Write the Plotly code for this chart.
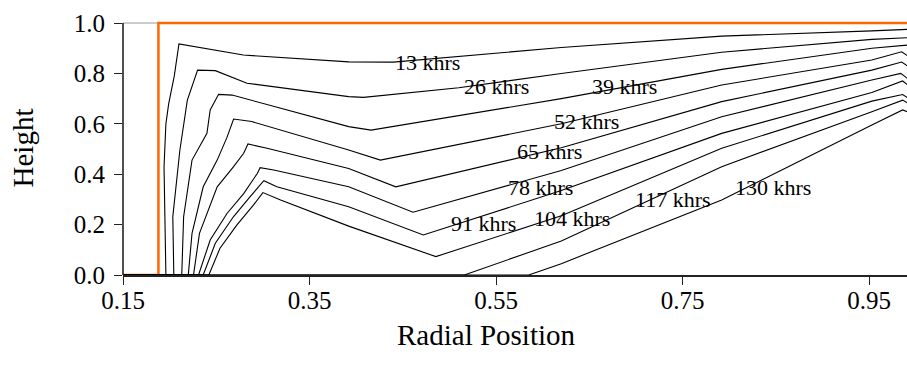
import plotly.graph_objects as go

# Initial profile (step at the inner radius)
r_init = [0.15, 0.188, 0.188, 0.993]
h_init = [0.0, 0.0, 1.0, 1.0]

# Height profiles after successive exposure times
r_13 = [0.15, 0.196, 0.194, 0.196, 0.199, 0.205, 0.210, 0.279, 0.392, 0.44, 0.62, 0.792, 0.953, 0.993]
h_13 = [0.0, 0.0, 0.43, 0.60, 0.68, 0.79, 0.917, 0.873, 0.846, 0.845, 0.903, 0.948, 0.969, 0.975]

r_26 = [0.15, 0.2045, 0.2034, 0.207, 0.211, 0.219, 0.230, 0.249, 0.283, 0.392, 0.408, 0.51, 0.62, 0.792, 0.953, 0.993]
h_26 = [0.0, 0.0, 0.231, 0.350, 0.496, 0.694, 0.813, 0.811, 0.761, 0.708, 0.705, 0.743, 0.800, 0.884, 0.935, 0.942]

r_39 = [0.15, 0.213, 0.215, 0.224, 0.240, 0.2435, 0.2525, 0.267, 0.392, 0.416, 0.62, 0.792, 0.953, 0.993]
h_39 = [0.0, 0.0, 0.231, 0.456, 0.562, 0.655, 0.717, 0.714, 0.589, 0.575, 0.700, 0.816, 0.900, 0.913]

r_52 = [0.15, 0.220, 0.224, 0.236, 0.251, 0.2615, 0.2686, 0.288, 0.392, 0.426, 0.62, 0.792, 0.953, 0.985, 0.993]
h_52 = [0.0, 0.0, 0.165, 0.350, 0.456, 0.546, 0.619, 0.609, 0.496, 0.456, 0.600, 0.754, 0.853, 0.886, 0.866]

r_65 = [0.15, 0.2256, 0.232, 0.251, 0.2686, 0.2794, 0.284, 0.3045, 0.392, 0.4425, 0.62, 0.792, 0.953, 0.985, 0.993]
h_65 = [0.0, 0.0, 0.165, 0.350, 0.430, 0.483, 0.520, 0.503, 0.423, 0.350, 0.505, 0.688, 0.813, 0.845, 0.825]

r_78 = [0.15, 0.231, 0.2435, 0.2615, 0.2794, 0.294, 0.297, 0.3116, 0.392, 0.461, 0.62, 0.792, 0.953, 0.984, 0.993]
h_78 = [0.0, 0.0, 0.139, 0.244, 0.323, 0.403, 0.426, 0.417, 0.350, 0.249, 0.415, 0.628, 0.774, 0.800, 0.775]

r_91 = [0.15, 0.236, 0.249, 0.2686, 0.2866, 0.301, 0.315, 0.392, 0.472, 0.62, 0.792, 0.953, 0.986, 0.993]
h_91 = [0.0, 0.0, 0.126, 0.232, 0.312, 0.374, 0.350, 0.271, 0.159, 0.335, 0.562, 0.724, 0.770, 0.750]

r_104 = [0.15, 0.242, 0.254, 0.272, 0.290, 0.300, 0.319, 0.392, 0.4855, 0.62, 0.792, 0.953, 0.986, 0.993]
h_104 = [0.0, 0.0, 0.106, 0.198, 0.278, 0.327, 0.298, 0.194, 0.073, 0.235, 0.503, 0.690, 0.716, 0.700]

r_117 = [0.15, 0.516, 0.62, 0.792, 0.953, 0.986, 0.993]
h_117 = [0.0, 0.0, 0.135, 0.430, 0.648, 0.694, 0.680]

r_130 = [0.15, 0.585, 0.62, 0.792, 0.953, 0.986, 0.993]
h_130 = [0.0, 0.0, 0.045, 0.298, 0.595, 0.655, 0.645]

profiles = [
    (r_13, h_13), (r_26, h_26), (r_39, h_39), (r_52, h_52), (r_65, h_65),
    (r_78, h_78), (r_91, h_91), (r_104, h_104), (r_117, h_117), (r_130, h_130),
]

# Curve labels and where they sit
label_text = ["Initial Profile", "13 khrs", "26 khrs", "39 khrs", "52 khrs", "65 khrs",
              "78 khrs", "91 khrs", "104 khrs", "117 khrs", "130 khrs"]
label_r = [0.264, 0.476, 0.550, 0.688, 0.647, 0.607, 0.598, 0.537, 0.632, 0.740, 0.847]
label_h = [1.030, 0.845, 0.747, 0.750, 0.608, 0.489, 0.347, 0.204, 0.226, 0.298, 0.348]

x_ticks = [0.15, 0.35, 0.55, 0.75, 0.95]
y_ticks = [0.0, 0.2, 0.4, 0.6, 0.8, 1.0]

FONT = "Liberation Serif, Times New Roman, serif"

fig = go.Figure()
fig.add_trace(go.Scatter(x=r_init, y=h_init, mode="lines",
                         line=dict(color="#FF6600", width=2.5), hoverinfo="skip"))
for r, h in profiles:
    fig.add_trace(go.Scatter(x=r, y=h, mode="lines",
                             line=dict(color="black", width=1.1), hoverinfo="skip"))

for t, xr, yh in zip(label_text, label_r, label_h):
    fig.add_annotation(x=xr, y=yh, text=t, showarrow=False,
                       xanchor="center", yanchor="middle",
                       font=dict(family=FONT, size=22, color="black"))

fig.add_annotation(xref="paper", yref="paper", x=-0.1276, y=0.50, text="Height",
                   textangle=-90, showarrow=False, xanchor="center", yanchor="middle",
                   font=dict(family=FONT, size=29, color="black"))
fig.add_annotation(xref="paper", yref="paper", x=0.464, y=-0.235, text="Radial Position",
                   showarrow=False, xanchor="center", yanchor="middle",
                   font=dict(family=FONT, size=29, color="black"))

# plot-area frame: top edge (mostly hidden under the initial profile) and value axis line
fig.add_shape(type="line", xref="paper", yref="y", x0=0, x1=1, y0=1.0, y1=1.0,
              line=dict(color="#999999", width=1), layer="below")
fig.add_shape(type="line", xref="paper", yref="y", x0=0, x1=0, y0=0.0, y1=1.0,
              line=dict(color="#222222", width=1.6), layer="above")

fig.update_layout(
    width=907, height=372,
    margin=dict(l=123, r=0, t=20, b=97),
    plot_bgcolor="white", paper_bgcolor="white",
    showlegend=False,
    font=dict(family=FONT, color="black"),
)
fig.update_xaxes(range=[0.15, 0.9907], tickvals=x_ticks,
                 ticktext=[f"{v:.2f}" for v in x_ticks],
                 showgrid=False, zeroline=False, showline=True, linecolor="#222",
                 linewidth=1.5, ticks="outside", ticklen=8, tickcolor="#222",
                 ticklabelstandoff=-6,
                 tickfont=dict(family=FONT, size=25, color="black"))
fig.update_yaxes(range=[0.0, 1.012], tickvals=y_ticks,
                 ticktext=[f"{v:.1f}" for v in y_ticks],
                 showgrid=False, zeroline=False, showline=False,
                 ticks="outside", ticklen=8, tickcolor="#222",
                 ticklabelstandoff=4,
                 tickfont=dict(family=FONT, size=25, color="black"))

fig.write_html("out.html")
